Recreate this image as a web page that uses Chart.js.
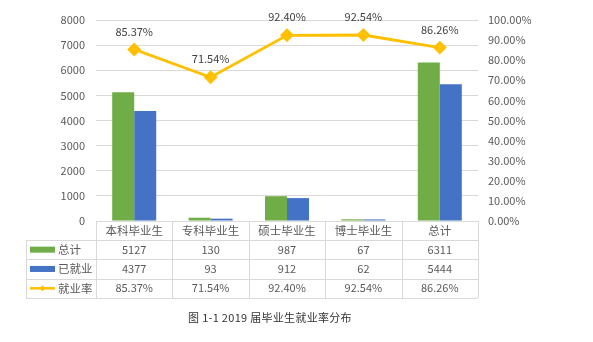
<!DOCTYPE html>
<html>
<head>
<meta charset="utf-8">
<script src="https://cdn.jsdelivr.net/npm/chart.js@4/dist/chart.umd.min.js"></script>
<style>
  body { margin: 0; background: #fff; }
  #wrap { position: relative; width: 593px; height: 342px; }
  #caption {
    position: absolute; left: 0; width: 540px; top: 309px;
    text-align: center; font: 11px "Noto Sans CJK SC", sans-serif; color: #333;
    letter-spacing: 0.3px;
  }
</style>
</head>
<body>
<div id="wrap">
  <canvas id="chart" width="593" height="342"></canvas>
  <div id="caption">图 1-1 2019 届毕业生就业率分布</div>
</div>
<script>
let categories = ["本科毕业生", "专科毕业生", "硕士毕业生", "博士毕业生", "总计"];
let seriesNames = ["总计", "已就业", "就业率"];
let totalCounts = [5127, 130, 987, 67, 6311];
let employedCounts = [4377, 93, 912, 62, 5444];
let employmentRates = [85.37, 71.54, 92.40, 92.54, 86.26];

let colors = ["#70AD47", "#4472C4", "#FFC000"];
let fontFamily = '"Noto Sans CJK SC", "Noto Sans", sans-serif';
let textColor = "#595959";
let lineColor = "#d9d9d9";

// labels above the rate points
const rateLabels = {
  id: "rateLabels",
  afterDatasetsDraw(chart) {
    const ctx = chart.ctx;
    const meta = chart.getDatasetMeta(2);
    ctx.save();
    ctx.font = "11px " + fontFamily;
    ctx.fillStyle = "#404040";
    ctx.textAlign = "center";
    ctx.textBaseline = "middle";
    meta.data.forEach((pt, i) => {
      ctx.fillText(employmentRates[i].toFixed(2) + "%", pt.x, pt.y - 18);
    });
    ctx.restore();
  },
};

// data table under the x axis
const dataTable = {
  id: "dataTable",
  afterDraw(chart) {
    const ctx = chart.ctx;
    const x = chart.scales.x;
    const area = chart.chartArea;
    const colW = (area.right - area.left) / categories.length;
    const top = area.bottom;
    const rows = [top, top + 19, top + 38.3, top + 57.6, top + 77];
    const legendLeft = 26;
    const values = [totalCounts, employedCounts, employmentRates.map((v) => v.toFixed(2) + "%")];

    ctx.save();
    ctx.strokeStyle = lineColor;
    ctx.lineWidth = 1;
    ctx.beginPath();
    ctx.moveTo(area.left, rows[0] + 0.5);
    ctx.lineTo(area.right, rows[0] + 0.5);
    for (let r = 1; r < rows.length; r++) {
      ctx.moveTo(legendLeft, Math.round(rows[r]) + 0.5);
      ctx.lineTo(area.right, Math.round(rows[r]) + 0.5);
    }
    for (let c = 0; c <= categories.length; c++) {
      const cx = Math.round(area.left + c * colW) + 0.5;
      ctx.moveTo(cx, rows[0]);
      ctx.lineTo(cx, rows[4]);
    }
    ctx.moveTo(legendLeft + 0.5, rows[1]);
    ctx.lineTo(legendLeft + 0.5, rows[4]);
    ctx.stroke();

    ctx.font = "11px " + fontFamily;
    ctx.fillStyle = textColor;
    ctx.textAlign = "center";
    ctx.textBaseline = "middle";
    values.forEach((row, r) => {
      const cy = (rows[r + 1] + rows[r + 2]) / 2;
      row.forEach((v, i) => {
        ctx.fillText(String(v), x.getPixelForValue(i), cy);
      });
    });

    // legend keys
    ctx.textAlign = "left";
    ctx.font = "11.5px " + fontFamily;
    seriesNames.forEach((name, r) => {
      const cy = (rows[r + 1] + rows[r + 2]) / 2;
      if (r < 2) {
        ctx.fillStyle = colors[r];
        ctx.fillRect(30, cy - 3, 25, 6);
      } else {
        ctx.strokeStyle = colors[2];
        ctx.lineWidth = 2.5;
        ctx.beginPath();
        ctx.moveTo(30, cy);
        ctx.lineTo(55, cy);
        ctx.stroke();
        ctx.fillStyle = colors[2];
        ctx.beginPath();
        ctx.moveTo(42.5, cy - 3);
        ctx.lineTo(45.5, cy);
        ctx.lineTo(42.5, cy + 3);
        ctx.lineTo(39.5, cy);
        ctx.closePath();
        ctx.fill();
      }
      ctx.fillStyle = textColor;
      ctx.fillText(name, 58, cy);
    });
    ctx.restore();
  },
};

new Chart(document.getElementById("chart"), {
  data: {
    labels: categories,
    datasets: [
      {
        type: "bar",
        label: seriesNames[0],
        data: totalCounts,
        backgroundColor: colors[0],
        yAxisID: "y",
        order: 1,
      },
      {
        type: "bar",
        label: seriesNames[1],
        data: employedCounts,
        backgroundColor: colors[1],
        yAxisID: "y",
        order: 1,
      },
      {
        type: "line",
        label: seriesNames[2],
        data: employmentRates,
        borderColor: colors[2],
        backgroundColor: colors[2],
        borderWidth: 2.8,
        pointStyle: "rectRot",
        pointRadius: 5,
        yAxisID: "y1",
        order: 0,
      },
    ],
  },
  options: {
    responsive: false,
    animation: false,
    layout: { padding: { top: 20, left: 0, right: 0, bottom: 44 } },
    datasets: {
      bar: { categoryPercentage: 0.576, barPercentage: 1 },
    },
    plugins: {
      legend: { display: false },
      tooltip: { enabled: false },
    },
    scales: {
      x: {
        grid: { display: false, drawTicks: false },
        border: { display: false },
        ticks: { color: textColor, font: { family: fontFamily, size: 11.5 }, padding: 3, maxRotation: 0 },
        afterFit: (scale) => { scale.height = 77; },
      },
      y: {
        position: "left",
        min: 0,
        max: 8000,
        ticks: {
          stepSize: 1000,
          color: textColor,
          font: { family: fontFamily, size: 11 },
          padding: 11,
          callback: (v) => String(v),
        },
        grid: { color: lineColor, drawTicks: false },
        border: { display: false },
        afterFit: (scale) => { scale.width = 96; },
      },
      y1: {
        position: "right",
        min: 0,
        max: 100,
        ticks: {
          stepSize: 10,
          color: textColor,
          font: { family: fontFamily, size: 11 },
          padding: 10,
          callback: (v) => v.toFixed(2) + "%",
        },
        grid: { display: false, drawTicks: false },
        border: { display: false },
        afterFit: (scale) => { scale.width = 115; },
      },
    },
  },
  plugins: [rateLabels, dataTable],
});
</script>
</body>
</html>
